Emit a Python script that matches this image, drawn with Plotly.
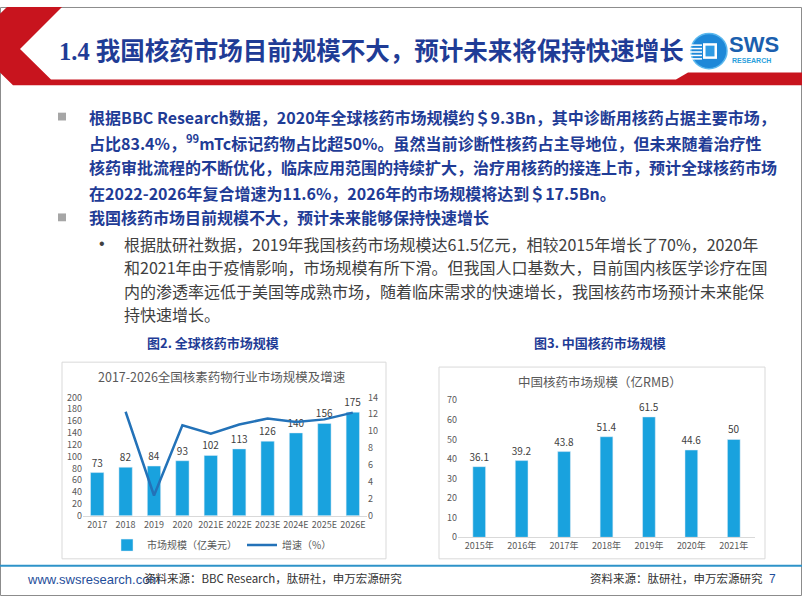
import plotly.graph_objects as go

W, H = 802, 602


def px(x):
    return x / W


def py(y):
    return 1 - y / H


def path(points):
    s = "M " + " L ".join(f"{px(x):.5f},{py(y):.5f}" for x, y in points) + " Z"
    return s


# ---------------- data ----------------
global_years = ["2017", "2018", "2019", "2020", "2021E", "2022E", "2023E", "2024E", "2025E", "2026E"]
global_size = [73, 82, 84, 93, 102, 113, 126, 140, 156, 175]
global_growth = [None, 12.3, 2.4, 10.7, 9.7, 10.8, 11.5, 11.1, 11.4, 12.2]

china_years = ["2015年", "2016年", "2017年", "2018年", "2019年", "2020年", "2021年"]
china_size = [36.1, 39.2, 43.8, 51.4, 61.5, 44.6, 50]

title_text = "1.4 我国核药市场目前规模不大，预计未来将保持快速增长"
para1 = [
    "根据BBC Research数据，2020年全球核药市场规模约＄9.3Bn，其中诊断用核药占据主要市场，",
    "占比83.4%，<sup>99</sup>mTc标记药物占比超50%。虽然当前诊断性核药占主导地位，但未来随着治疗性",
    "核药审批流程的不断优化，临床应用范围的持续扩大，治疗用核药的接连上市，预计全球核药市场",
    "在2022-2026年复合增速为11.6%，2026年的市场规模将达到＄17.5Bn。",
]
bullet2 = "我国核药市场目前规模不大，预计未来能够保持快速增长"
para2 = [
    "根据肽研社数据，2019年我国核药市场规模达61.5亿元，相较2015年增长了70%，2020年",
    "和2021年由于疫情影响，市场规模有所下滑。但我国人口基数大，目前国内核医学诊疗在国",
    "内的渗透率远低于美国等成熟市场，随着临床需求的快速增长，我国核药市场预计未来能保",
    "持快速增长。",
]

BAR = "#19A2DE"
LINE = "#2372B8"
BLUE = "#1F3C96"
CJK = "Noto Sans CJK SC"
TICK = dict(family=CJK, size=9, color="#595959")
LBL = dict(family=CJK, size=10, color="#404040")

fig = go.Figure()

fig.add_trace(go.Bar(
    x=global_years, y=global_size, xaxis="x", yaxis="y",
    marker=dict(color=BAR), width=0.47,
    text=[str(v) for v in global_size], textposition="outside",
    textfont=LBL, outsidetextfont=LBL, constraintext="none", cliponaxis=False,
    name="市场规模（亿美元）",
))
fig.add_trace(go.Scatter(
    x=global_years, y=global_growth, xaxis="x", yaxis="y2",
    mode="lines", line=dict(color=LINE, width=2.5),
    name="增速（%）",
))
fig.add_trace(go.Bar(
    x=china_years, y=china_size, xaxis="x2", yaxis="y3",
    marker=dict(color=BAR), width=0.3,
    text=[f"{v:g}" for v in china_size], textposition="outside",
    textfont=LBL, outsidetextfont=LBL, constraintext="none", cliponaxis=False,
    showlegend=False,
))

shapes = []
# page border
shapes.append(dict(type="rect", xref="paper", yref="paper", x0=px(0.5), x1=px(801.5), y0=py(601.5), y1=py(0.5),
                   line=dict(color="#8c8c8c", width=1), layer="below"))
# red chevron + stripe
shapes.append(dict(type="path", xref="paper", yref="paper",
                   path=path([(7, 0), (62, 0), (20, 43), (51, 74), (676, 74), (688, 67), (802, 67), (802, 80),
                              (13, 80), (0, 67), (0, 7)]),
                   fillcolor="#C8141E", line=dict(width=0), layer="below"))
# logo
shapes.append(dict(type="circle", xref="paper", yref="paper", x0=px(691), x1=px(727), y0=py(63), y1=py(27),
                   fillcolor="#1E88D8", line=dict(color="#5BB8EE", width=1.5)))
shapes.append(dict(type="rect", xref="paper", yref="paper", x0=px(703), x1=px(717), y0=py(53), y1=py(37),
                   fillcolor="white", line=dict(width=0)))
shapes.append(dict(type="rect", xref="paper", yref="paper", x0=px(705.5), x1=px(714.5), y0=py(50.5), y1=py(39.5),
                   fillcolor="#2F9BE3", line=dict(width=0)))
for yy in (39, 42.5, 46, 49.5, 53):
    shapes.append(dict(type="line", xref="paper", yref="paper", x0=px(688), x1=px(702), y0=py(yy), y1=py(yy),
                       line=dict(color="white", width=1.5)))
# bullet squares
for yc in (112, 215):
    shapes.append(dict(type="rect", xref="paper", yref="paper", x0=px(58), x1=px(66), y0=py(yc + 4), y1=py(yc - 4),
                       fillcolor="#A6A6A6", line=dict(width=0)))
# chart frames
shapes.append(dict(type="rect", xref="paper", yref="paper", x0=px(62), x1=px(386), y0=py(564), y1=py(363),
                   line=dict(color="#D9D9D9", width=1), layer="below"))
shapes.append(dict(type="rect", xref="paper", yref="paper", x0=px(439), x1=px(765), y0=py(564), y1=py(368),
                   line=dict(color="#D9D9D9", width=1), layer="below"))
# footer line
shapes.append(dict(type="line", xref="paper", yref="paper", x0=px(0), x1=px(802), y0=py(571), y1=py(571),
                   line=dict(color="#2E93C9", width=2)))

ann = []


def text(x, y, s, size, color, xanchor="left", family=CJK, bold=False):
    if bold:
        s = f"<b>{s}</b>"
    ann.append(dict(x=px(x), y=py(y), xref="paper", yref="paper", text=s, showarrow=False,
                    xanchor=xanchor, yanchor="middle", font=dict(family=family, size=size, color=color)))


text(57, 45, title_text, 24.5, BLUE, family="Liberation Serif, " + CJK, bold=True)
text(727, 38, "SWS", 22, "#1B5FAE", family="Liberation Sans", bold=True)
text(730, 55, "RESEARCH", 7, "#2AA0DC", family="Liberation Sans", bold=True)

for i, line in enumerate(para1):
    text(87, 112 + 26 * i, line, 16, BLUE, bold=True)
text(87, 215, bullet2, 16, BLUE, bold=True)
text(97, 242, "•", 16, "#404040", family="Liberation Sans")
for i, line in enumerate(para2):
    text(122, 242 + 24 * i, line, 16, "#404040")

text(213, 343, "图2. 全球核药市场规模", 13, BLUE, xanchor="center", bold=True)
text(600, 343, "图3. 中国核药市场规模", 13, BLUE, xanchor="center", bold=True)
text(222, 378, "2017-2026全国核素药物行业市场规模及增速", 12.5, "#595959", xanchor="center")
text(600, 383, "中国核药市场规模（亿RMB）", 12.5, "#595959", xanchor="center")

text(25, 585, "www.swsresearch.com", 13, "#1F4E9A", family="Liberation Sans")
text(142, 584, "资料来源：BBC Research，肽研社，申万宏源研究", 11.5, "#333333")
text(588, 584, "资料来源：肽研社，申万宏源研究", 11.5, "#333333")
text(767, 585, "7", 12, "#1F4E9A", family="Liberation Sans")

fig.update_layout(
    width=W, height=H, autosize=False,
    margin=dict(l=0, r=0, t=0, b=0),
    paper_bgcolor="white", plot_bgcolor="rgba(0,0,0,0)",
    shapes=shapes, annotations=ann,
    xaxis=dict(domain=[px(83), px(367)], anchor="y", type="category", tickangle=0,
               showline=True, linecolor="#D9D9D9", linewidth=1, ticks="", tickfont=TICK,
               showgrid=False, zeroline=False),
    yaxis=dict(domain=[py(520), py(399)], anchor="x", range=[0, 200], dtick=20,
               showgrid=False, zeroline=False, showline=False, tickfont=TICK, ticks=""),
    yaxis2=dict(overlaying="y", anchor="x", side="right", range=[0, 14], dtick=2,
                showgrid=False, zeroline=False, showline=False, tickfont=TICK, ticks=""),
    xaxis2=dict(domain=[px(458), px(755)], anchor="y3", type="category", tickangle=0,
                showline=True, linecolor="#D9D9D9", linewidth=1, ticks="", tickfont=TICK,
                showgrid=False, zeroline=False),
    yaxis3=dict(domain=[py(542), py(402)], anchor="x2", range=[0, 70], dtick=10,
                showgrid=False, zeroline=False, showline=False, tickfont=TICK, ticks=""),
    legend=dict(orientation="h", x=px(222), y=py(550), xanchor="center", yanchor="middle",
                font=dict(family=CJK, size=10, color="#595959"), bgcolor="rgba(0,0,0,0)"),
    showlegend=True,
)

fig.write_html("out.html")
